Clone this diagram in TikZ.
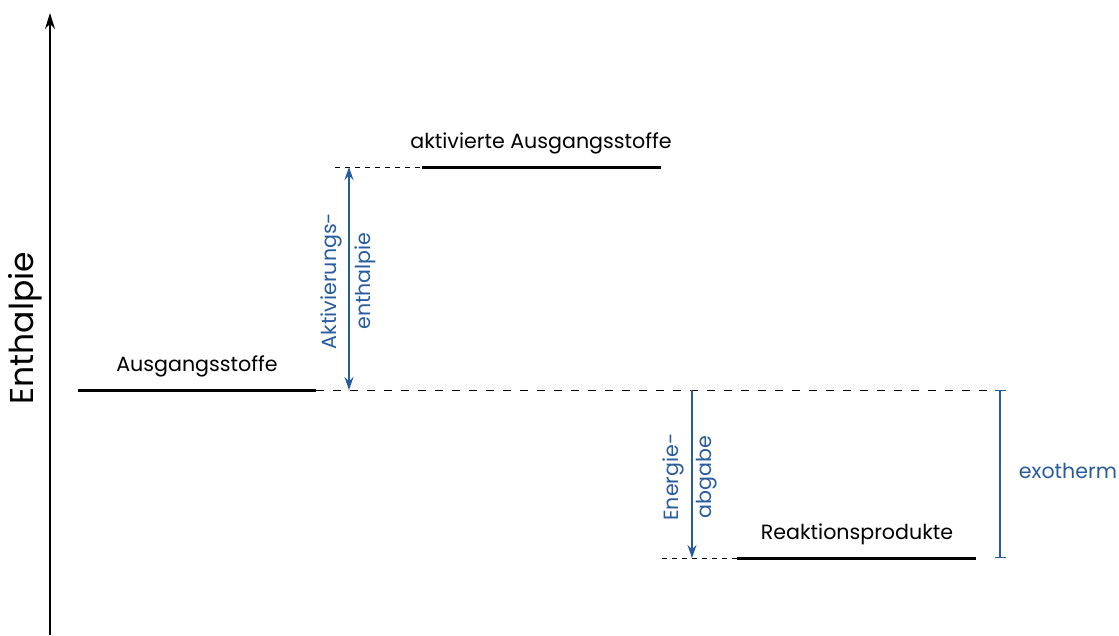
\documentclass[tikz,border=0pt]{standalone}
\usepackage{fontspec}
\setmainfont{Poppins}
\usetikzlibrary{arrows.meta}
\definecolor{eblue}{RGB}{40,92,158}
\begin{document}
\begin{tikzpicture}[x=1pt,y=-1pt,
  level/.style={line width=3pt},
  guide/.style={line width=1pt,dash pattern=on 8pt off 9pt},
  guideshort/.style={line width=1pt,dash pattern=on 5pt off 5pt},
  bluearrow/.style={eblue,line width=1.3pt},
  lbl/.style={font=\fontsize{20.6}{24}\selectfont,inner sep=0pt},
  blbl/.style={font=\fontsize{20.6}{24}\selectfont,inner sep=0pt,text=eblue}]
\useasboundingbox (0,0) rectangle (1119,635);
% axis
\coordinate (axb) at (50,635);
\coordinate (axt) at (50,13);
\draw[line width=1.4pt,-{Stealth[length=16pt,width=10pt]}] (axb) -- (axt);
\node[rotate=90,font=\fontsize{33}{38}\selectfont,inner sep=0pt] (ylab) at (25,328) {Enthalpie};
% energy levels
\coordinate (a1) at (78,390); \coordinate (a2) at (316,390);
\coordinate (k1) at (422,167); \coordinate (k2) at (661,167);
\coordinate (r1) at (737,558); \coordinate (r2) at (976,558);
\draw[level] (a1) -- (a2);
\draw[level] (k1) -- (k2);
\draw[level] (r1) -- (r2);
\node[lbl] (la) at (197,366) {Ausgangsstoffe};
\node[lbl] (lk) at (541,143) {aktivierte Ausgangsstoffe};
\node[lbl] (lr) at (857,534) {Reaktionsprodukte};
% guide lines
\coordinate (ge) at (992,390);
\coordinate (gk) at (335,167);
\coordinate (gr) at (662,558);
\draw[guide] (a2) -- (ge);
\draw[guideshort] (gk) -- (k1);
\draw[guideshort] (gr) -- (r1);
% activation enthalpy
\coordinate (act1) at (349,390); \coordinate (act2) at (349,167);
\draw[bluearrow,{Stealth[length=13pt,width=9pt]}-{Stealth[length=13pt,width=9pt]}] (act1) -- (act2);
\node[blbl,rotate=90] (aa) at (331,281) {Aktivierungs-};
\node[blbl,rotate=90] (ab) at (365,281) {enthalpie};
% released energy
\coordinate (e1) at (692,390); \coordinate (e2) at (692,558);
\draw[bluearrow,-{Stealth[length=13pt,width=9pt]}] (e1) -- (e2);
\node[blbl,rotate=90] (ea) at (673,477) {Energie-};
\node[blbl,rotate=90] (eb) at (707,477) {abgabe};
% exotherm bracket
\coordinate (x1) at (1000,390); \coordinate (x2) at (1000,558);
\draw[bluearrow,line width=1.1pt,{Bar[width=11pt]}-{Bar[width=11pt]}] (x1) -- (x2);
\node[blbl] (ex) at (1068,471) {exotherm};
\end{tikzpicture}
\end{document}
